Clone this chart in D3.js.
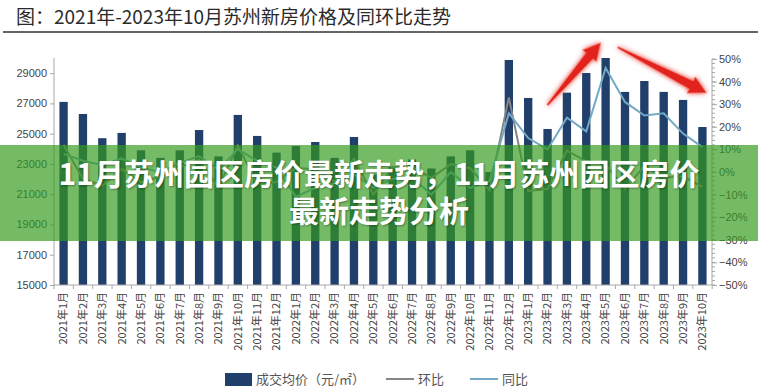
<!DOCTYPE html>
<meta charset="utf-8">
<style>
    body { margin: 0; background: #fff; }
    svg { display: block; font-family: "Noto Sans CJK SC", "Noto Sans", sans-serif; }
    .axis text { fill: #444; font-size: 11px; }
    .axis line, .axis path { stroke: #a8a8a8; }
    .legend text { fill: #555; font-size: 13px; }
    .banner text { fill: #fff; font-size: 30px; font-weight: bold; text-shadow: 1px 1px 2px rgba(0,0,0,0.35); }
</style>
<svg width="758" height="386"></svg>
<script src="https://d3js.org/d3.v7.min.js"></script>
<script>

    var months = [
        "2021年1月", "2021年2月", "2021年3月", "2021年4月", "2021年5月", "2021年6月",
        "2021年7月", "2021年8月", "2021年9月", "2021年10月", "2021年11月", "2021年12月",
        "2022年1月", "2022年2月", "2022年3月", "2022年4月", "2022年5月", "2022年6月",
        "2022年7月", "2022年8月", "2022年9月", "2022年10月", "2022年11月", "2022年12月",
        "2023年1月", "2023年2月", "2023年3月", "2023年4月", "2023年5月", "2023年6月",
        "2023年7月", "2023年8月", "2023年9月", "2023年10月"
    ];
    // 成交均价 (元/㎡)
    var price = [
        27100, 26300, 24700, 25050, 23900, 23400, 23900, 25240, 23500, 26240, 24850, 23750,
        24190, 24450, 23400, 24780, 22300, 22800, 23300, 22700, 23500, 23900, 22460, 29870,
        27360, 25310, 27710, 29010, 30000, 27760, 28480, 27760, 27230, 25440
    ];
    // 环比 (%)
    var mom = [
        12, -3, -6, 1.4, -4.6, -2, 2, 5.6, -6.9, 11.7, -5.3, -4.4,
        1.9, 1.1, -4.3, 5.9, -10, 2.2, 2.2, -2.6, 3.5, 1.7, -8, 33,
        -8.4, -7.5, 9.5, 4.7, 3.4, -7.5, 2.6, -2.5, -1.9, -6.6
    ];
    // 同比 (%)
    var yoy = [
        8, 5, 3, 6, 2, 0, 4, 7, 1, 10, 5, 2,
        -11, -7, -5, -1, -7, -3, -2.5, -10, 0, -7, -4, 26,
        15, 10, 24, 18, 46, 31, 25, 26, 17, 11
    ];
    var leftTicks = [15000, 17000, 19000, 21000, 23000, 25000, 27000, 29000];
    var rightTicks = [-50, -40, -30, -20, -10, 0, 10, 20, 30, 40, 50];
    var title = "图：2021年-2023年10月苏州新房价格及同环比走势";
    var bannerLines = ["11月苏州园区房价最新走势，11月苏州园区房价", "最新走势分析"];
    var legendItems = ["成交均价（元/㎡）", "环比", "同比"];

    // arrows drawn over the 2023 peak: [month, pixel offset, price level]
    var arrows = [
        { from: ["2023年2月", 0, 26900], to: ["2023年5月", -5, 31000] },
        { from: ["2023年6月", -7, 30700], to: ["2023年10月", 4, 27700] }
    ];

    var barColor = "#213f6b",
        momColor = "#858585",
        yoyColor = "#74a9c6";

    var svg = d3.select("svg"),
        width = +svg.attr("width"),
        height = +svg.attr("height");

    var x = d3.scaleBand()
        .domain(months)
        .range([54, 712])
        .paddingInner(0.57)
        .paddingOuter(0.28);

    var yL = d3.scaleLinear().domain([15000, 30000]).range([285, 58]);
    var yR = d3.scaleLinear().domain([-50, 50]).range([285, 59]);

    function cx(m) { return x(m) + x.bandwidth() / 2; }

    // title
    svg.append("text")
        .attr("x", 16)
        .attr("y", 24)
        .attr("fill", "#2a2a2a")
        .style("font-size", "19px")
        .text(title);
    svg.append("line")
        .attr("x1", 3).attr("x2", width)
        .attr("y1", 32).attr("y2", 32)
        .attr("stroke", "#333")
        .attr("stroke-width", 1.5);

    // left axis
    var gL = svg.append("g")
        .attr("class", "axis")
        .attr("transform", "translate(54,0)")
        .call(d3.axisLeft(yL).tickValues(leftTicks).tickSize(4).tickPadding(3).tickFormat(d3.format("d")));
    gL.select(".domain").attr("d", "M0," + yL(30000) + "V" + yL(15000));

    // right axis with minor ticks
    var gR = svg.append("g")
        .attr("class", "axis")
        .attr("transform", "translate(712,0)");
    gR.selectAll(".minor")
        .data(d3.range(-50, 51, 2))
        .enter().append("line")
        .attr("class", "minor")
        .attr("x1", 0).attr("x2", 3)
        .attr("y1", function (d) { return yR(d); })
        .attr("y2", function (d) { return yR(d); });
    gR.call(d3.axisRight(yR).tickValues(rightTicks).tickSize(5).tickPadding(2)
        .tickFormat(function (d) { return (d < 0 ? "\u2212" + (-d) : d) + "%"; }));
    gR.select(".domain").attr("d", "M0," + yR(50) + "V" + yR(-50));

    // bars
    svg.append("g")
        .selectAll("rect")
        .data(price)
        .enter().append("rect")
        .attr("x", function (d, i) { return x(months[i]); })
        .attr("width", x.bandwidth())
        .attr("y", function (d) { return yL(d); })
        .attr("height", function (d) { return yL(15000) - yL(d); })
        .attr("fill", barColor);

    // lines
    var line = d3.line()
        .x(function (d, i) { return cx(months[i]); })
        .y(function (d) { return yR(d); });

    svg.append("path")
        .datum(mom)
        .attr("d", line)
        .attr("fill", "none")
        .attr("stroke", momColor)
        .attr("stroke-width", 2);

    svg.append("path")
        .datum(yoy)
        .attr("d", line)
        .attr("fill", "none")
        .attr("stroke", yoyColor)
        .attr("stroke-width", 2);

    // bottom axis
    var gB = svg.append("g")
        .attr("class", "axis")
        .attr("transform", "translate(0,285)");
    gB.append("line")
        .attr("x1", 54).attr("x2", 712)
        .attr("y1", 0).attr("y2", 0);
    gB.selectAll(".sep")
        .data(d3.range(months.length + 1))
        .enter().append("line")
        .attr("x1", function (i) { return 54 + i * x.step(); })
        .attr("x2", function (i) { return 54 + i * x.step(); })
        .attr("y1", 0).attr("y2", 4);
    gB.selectAll(".lbl")
        .data(months)
        .enter().append("text")
        .attr("transform", function (d) { return "translate(" + cx(d) + ",7) rotate(-90)"; })
        .attr("dy", "0.35em")
        .attr("text-anchor", "end")
        .text(function (d) { return d; });

    // legend
    var lg = svg.append("g").attr("class", "legend");
    lg.append("rect")
        .attr("x", 225).attr("y", 373)
        .attr("width", 27).attr("height", 13)
        .attr("fill", barColor);
    lg.append("text").attr("x", 256).attr("y", 384).text(legendItems[0]);
    lg.append("line")
        .attr("x1", 386).attr("x2", 414).attr("y1", 379).attr("y2", 379)
        .attr("stroke", momColor).attr("stroke-width", 2);
    lg.append("text").attr("x", 418).attr("y", 384).text(legendItems[1]);
    lg.append("line")
        .attr("x1", 470).attr("x2", 498).attr("y1", 379).attr("y2", 379)
        .attr("stroke", yoyColor).attr("stroke-width", 2);
    lg.append("text").attr("x", 502).attr("y", 384).text(legendItems[2]);

    // red arrows
    var defs = svg.append("defs");
    var glow = defs.append("filter").attr("id", "glow")
        .attr("x", "-30%").attr("y", "-30%").attr("width", "160%").attr("height", "160%");
    glow.append("feGaussianBlur").attr("in", "SourceGraphic").attr("stdDeviation", 2.5).attr("result", "b");
    var fm = glow.append("feMerge");
    fm.append("feMergeNode").attr("in", "b");
    fm.append("feMergeNode").attr("in", "SourceGraphic");

    function arrowPath(a) {
        var x0 = cx(a.from[0]) + a.from[1], y0 = yL(a.from[2]),
            x1 = cx(a.to[0]) + a.to[1], y1 = yL(a.to[2]);
        var dx = x1 - x0, dy = y1 - y0, len = Math.sqrt(dx * dx + dy * dy);
        var ux = dx / len, uy = dy / len, nx = -uy, ny = ux;
        var headL = 17, headW = 9, shaftEnd = 4.5, shaftStart = 0.8;
        var bx = x1 - ux * headL, by = y1 - uy * headL;
        var pts = [
            [x0 + nx * shaftStart, y0 + ny * shaftStart],
            [bx + nx * shaftEnd, by + ny * shaftEnd],
            [bx + nx * headW, by + ny * headW],
            [x1, y1],
            [bx - nx * headW, by - ny * headW],
            [bx - nx * shaftEnd, by - ny * shaftEnd],
            [x0 - nx * shaftStart, y0 - ny * shaftStart]
        ];
        return "M" + pts.map(function (p) { return p.join(","); }).join("L") + "Z";
    }

    svg.append("g")
        .selectAll("path")
        .data(arrows)
        .enter().append("path")
        .attr("d", arrowPath)
        .attr("fill", "#e2231a")
        .attr("stroke", "#f37a6e")
        .attr("stroke-width", 0.8)
        .attr("filter", "url(#glow)");

    // green banner over the middle of the chart
    var banner = svg.append("g").attr("class", "banner");
    banner.append("rect")
        .attr("x", 0).attr("y", 145)
        .attr("width", width).attr("height", 96)
        .attr("fill", "rgba(52,155,30,0.68)");
    banner.selectAll("text")
        .data(bannerLines)
        .enter().append("text")
        .attr("x", width / 2)
        .attr("y", function (d, i) { return 185 + i * 37; })
        .attr("text-anchor", "middle")
        .text(function (d) { return d; });

</script>
